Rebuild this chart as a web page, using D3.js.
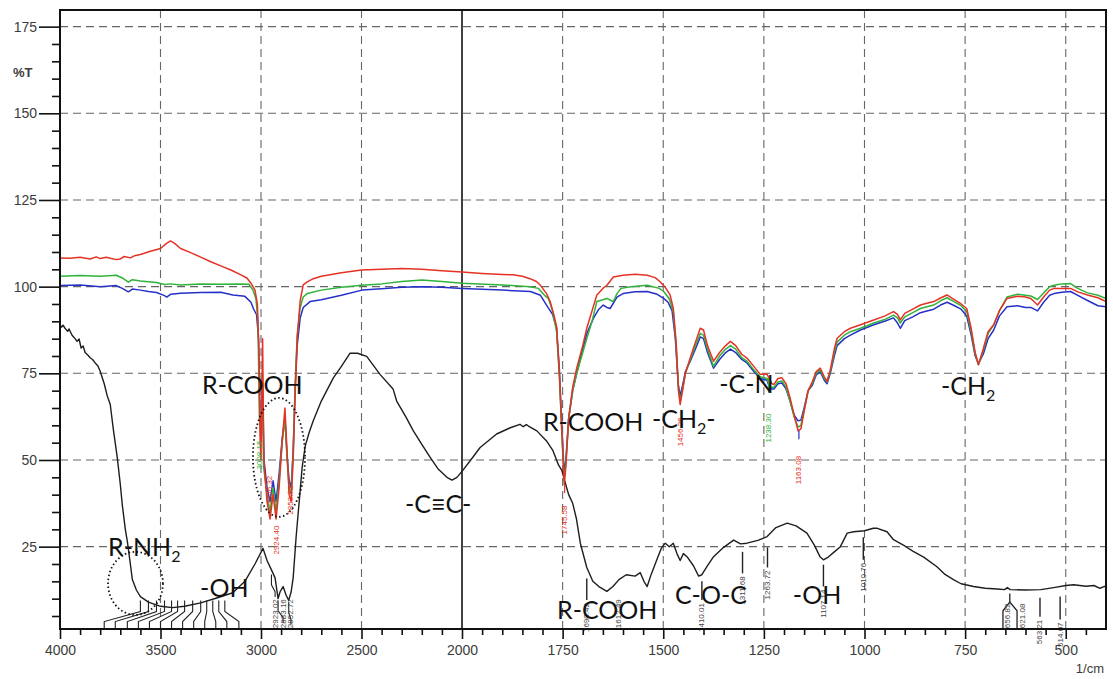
<!DOCTYPE html>
<html>
<head>
<meta charset="utf-8">
<script src="https://cdn.jsdelivr.net/npm/d3@7/dist/d3.min.js"></script>
<style>
  body { margin: 0; background: #fff; }
  .tick text { font-family: "Liberation Sans", Arial, sans-serif; font-size: 14px; fill: #3c3c3c; }
  .note { font-family: Lato, "Open Sans", sans-serif; font-size: 25px; fill: #111; }
  .pk { font-family: "Liberation Sans", Arial, sans-serif; font-size: 8px; }
</style>
</head>
<body>
<div id="chart"></div>
<script>
// ---- data: [wavenumber (1/cm), %T] ----
const blackSpectrum = [
  [4000,89],[3992,88.3],[3985,88.9],[3975,88],[3962,87.1],[3955,87.8],[3940,86],[3925,85],[3915,84.2],
  [3905,84.9],[3895,82.3],[3885,82.9],[3875,81],[3862,80.3],[3850,79.5],[3838,79],[3825,78],
  [3812,77.2],[3800,75.6],[3780,72],[3765,68.5],[3750,66],[3735,59],[3715,50.7],[3700,43],[3690,37],
  [3675,30],[3665,26.5],[3650,20],[3640,15.5],[3620,12.5],[3600,10.6],[3560,9],[3500,7.8],[3440,7.4],
  [3380,7.8],[3300,8.8],[3220,10.2],[3140,11.7],[3080,15],[3030,20],[2990,24.5],[2970,21],[2948,18.3],
  [2930,16],[2915,10],[2905,12],[2890,13.5],[2875,11],[2862,9.5],[2850,12],[2840,16],[2825,28],
  [2810,38],[2795,48],[2780,54],[2760,58],[2740,61.3],[2700,67],[2640,73.7],[2600,77],[2557,80.8],
  [2520,80.8],[2474,79.9],[2408,74.7],[2343,70.5],[2325,67],[2280,62.5],[2242,58.4],[2200,54.5],
  [2159,50.8],[2120,47.5],[2075,45],[2050,44.2],[2025,45],[1998,47],[1975,50.5],[1955,53.6],
  [1914,57.5],[1880,59.3],[1856,60.3],[1848,59.6],[1840,60.2],[1835,59.8],[1814,58.4],[1790,55.5],
  [1774,52.7],[1760,48.5],[1752,47],[1745,44],[1735,40],[1725,37.5],[1716,33.2],[1706,26],[1690,19],
  [1675,15],[1660,13.5],[1640,12.1],[1625,13.5],[1610,15.5],[1592,16.9],[1570,16.5],[1557,17.5],
  [1548,15],[1540,13.5],[1530,17],[1516,21.2],[1505,24.5],[1495,26],[1485,25],[1475,26],[1466,23],
  [1458,21],[1450,23],[1441,22.1],[1425,19.5],[1412,16.5],[1404,16.9],[1390,19.5],[1375,22.1],
  [1350,24.8],[1325,26.9],[1308,25.8],[1292,26],[1265,26.8],[1242,27.9],[1220,30.5],[1192,31.8],
  [1170,31],[1143,28.9],[1125,25.5],[1110,22],[1102,21.2],[1090,22],[1075,23.5],[1060,25],[1043,28.9],
  [1027,29.3],[1000,29.6],[978,30.3],[968,30.3],[944,29.3],[928,27],[900,25.2],[880,23.7],[853,22],
  [820,19.2],[800,17],[779,15.5],[760,14.3],[729,13.5],[700,13],[670,12.8],[652,12.6],[645,13.2],
  [638,12.6],[600,12.5],[562,12.6],[530,13.2],[500,13.8],[480,14],[450,13.6],[430,13.8],[415,13],
  [405,13.5],[400,13.5]
];

const redSpectrum = [
  [4000,108.3],[3950,108.2],[3900,108.5],[3850,108],[3820,108.6],[3800,108.1],[3770,108.5],
  [3750,108.2],[3720,107.8],[3700,108],[3680,108.7],[3650,108.3],[3630,108.9],[3600,109.3],
  [3550,110.2],[3500,111],[3470,112.5],[3450,113.2],[3430,112.5],[3400,111],[3350,109.8],[3300,108.5],
  [3250,107.2],[3200,106],[3150,104.8],[3100,103.4],[3070,102.5],[3050,101],[3030,99],[3018,95],
  [3010,80],[3004,55],[3000,50],[2992,85],[2986,50],[2970,38],[2955,33],[2940,40],[2925,33],[2910,42],
  [2895,55],[2881,65],[2870,52],[2860,40],[2850,38],[2840,50],[2830,70],[2820,85],[2805,96],
  [2790,100.5],[2770,101.4],[2740,102.3],[2700,103],[2600,104],[2500,104.8],[2400,105],[2300,105.2],
  [2200,105],[2100,104.6],[2000,104.2],[1950,103.8],[1900,103.5],[1873,103.4],[1850,103],[1831,102.3],
  [1815,101.5],[1806,100.5],[1790,98],[1781,95.7],[1772,92],[1765,88.5],[1758,75],[1752,58],[1746,43],
  [1742,48],[1735,62],[1725,71],[1715,76.5],[1700,83],[1690,88],[1677,93],[1665,97.6],[1650,99.5],
  [1640,100.4],[1624,102.8],[1600,103.3],[1570,103.6],[1540,103.3],[1520,102.6],[1508,101.4],
  [1495,99.8],[1483,97.6],[1475,93.7],[1468,84],[1462,70],[1458,66],[1452,70],[1445,75],[1433,79.4],
  [1420,84],[1408,88],[1400,87.5],[1390,83],[1375,78.5],[1360,81],[1345,83],[1333,84.2],[1320,83],
  [1305,80.5],[1292,79.4],[1275,77],[1259,74.7],[1242,74.7],[1230,72],[1225,71.8],[1215,73.5],
  [1205,73.7],[1195,72],[1185,68],[1175,63],[1165,58.4],[1158,59],[1150,64],[1140,70],[1130,72.5],
  [1120,75.5],[1110,76.5],[1100,74],[1093,72.7],[1085,76],[1075,82],[1068,85.1],[1050,87],[1035,88],
  [1010,89],[977,90.4],[950,91.5],[928,92.8],[918,92],[911,90.4],[900,92.3],[880,93.5],[861,94.7],
  [845,95.2],[828,95.7],[810,96.8],[795,97.6],[780,96.5],[760,95],[746,93.7],[735,88],[725,81],
  [717,77.5],[705,82],[693,87],[679,89],[665,93],[646,96.6],[620,97.2],[600,97],[587,96.6],[570,94.7],
  [555,97],[540,99],[529,99.5],[510,99.5],[488,99.5],[470,98.5],[446,97.6],[420,96.8],[400,95.7]
];

const greenSpectrum = [
  [4000,103],[3900,103.2],[3800,103],[3720,103.3],[3690,102.5],[3660,101.3],[3640,102],[3600,101.6],
  [3560,101.4],[3520,101.2],[3480,100.6],[3450,100.8],[3400,100.5],[3300,100.8],[3200,100.7],
  [3100,100.8],[3060,100.7],[3040,99],[3025,96.4],[3015,90],[3008,62],[3000,55],[2993,75],[2987,48],
  [2970,40],[2955,35],[2940,42],[2925,35],[2910,44],[2895,55],[2881,62],[2870,50],[2860,42],[2850,40],
  [2840,52],[2830,72],[2820,86],[2805,94],[2790,97],[2770,98],[2700,99],[2600,99.8],[2500,100.4],
  [2400,100.8],[2300,101.5],[2200,101.9],[2100,101.5],[2000,101],[1900,100.5],[1831,100],[1810,99.5],
  [1795,97.5],[1785,96.5],[1775,93],[1765,87],[1758,74],[1752,58],[1746,44],[1742,49],[1735,62],
  [1725,70],[1715,75],[1700,81],[1690,85],[1677,90],[1665,95.7],[1650,96.2],[1640,96.6],[1630,96],
  [1624,95.7],[1615,98],[1605,99.5],[1580,100],[1540,100.4],[1510,99.5],[1499,98.6],[1485,96.5],
  [1475,92.5],[1468,83],[1462,70],[1458,67],[1452,70.5],[1445,75],[1433,79],[1420,83],[1408,86.5],
  [1400,86],[1390,82],[1375,77],[1360,80],[1345,82],[1333,83],[1320,82],[1305,79.5],[1292,78.5],
  [1275,76],[1259,74],[1242,73.5],[1235,71],[1225,71],[1215,72.5],[1205,72.8],[1195,71],[1185,67],
  [1175,62.5],[1165,59.5],[1158,60],[1150,64.5],[1140,70],[1130,72],[1120,75],[1110,76],[1100,73.5],
  [1093,72.5],[1085,75.5],[1075,81],[1068,84],[1050,86],[1035,87],[1010,88],[977,89.5],[950,90.5],
  [928,91.8],[918,91],[911,89.5],[900,91.3],[880,92.5],[861,93.7],[845,94.2],[828,94.7],[810,96],
  [795,96.8],[780,95.8],[760,94.5],[746,92.8],[735,87],[725,80.5],[717,77.5],[705,81.5],[693,86.5],
  [679,89],[665,93],[646,97],[620,97.8],[600,97.5],[587,97.3],[570,96.3],[555,98.2],[540,100],
  [529,100.4],[510,100.8],[488,100.9],[470,99.5],[446,98.2],[420,97.5],[400,96.6]
];

const blueSpectrum = [
  [4000,100.3],[3900,100.5],[3800,100],[3720,100.3],[3690,99.5],[3660,98.5],[3640,99.3],[3600,99],
  [3560,98.6],[3520,98.3],[3480,97.4],[3469,97],[3450,97.8],[3400,98.1],[3300,98.3],[3200,98.4],
  [3140,97.6],[3080,97.2],[3050,95.5],[3038,93.7],[3022,91.9],[3012,85],[3005,62],[2998,57],[2992,72],
  [2985,50],[2970,42],[2955,38],[2940,44],[2925,38],[2910,46],[2895,56],[2881,62],[2870,51],[2860,44],
  [2850,42],[2840,53],[2830,70],[2820,83],[2805,91],[2790,94],[2756,95.7],[2700,96.2],[2600,97.5],
  [2497,99],[2400,99.4],[2300,99.8],[2198,100],[2100,99.8],[2000,99.5],[1900,99],[1830,98.6],
  [1805,97.5],[1790,94.7],[1775,92],[1765,88],[1758,76],[1752,60],[1746,46],[1742,50],[1735,62],
  [1725,70],[1715,75],[1700,82],[1690,86.5],[1673,91],[1660,93.5],[1649,94.7],[1640,94],[1632,93.7],
  [1615,97],[1600,98],[1570,98.5],[1540,98.6],[1515,97.8],[1499,96.6],[1488,95.5],[1478,93],[1470,85],
  [1463,72],[1458,68.5],[1452,71.5],[1445,75.5],[1433,78.5],[1420,82],[1408,85.5],[1400,85],[1390,81],
  [1375,76.5],[1360,79],[1345,81],[1333,82],[1320,81],[1305,79],[1292,78],[1275,75.5],[1259,73.5],
  [1242,73],[1235,70.5],[1225,70.5],[1215,72],[1205,72.2],[1195,70.5],[1185,67],[1175,63],[1165,61.3],
  [1158,61.5],[1150,65],[1140,70],[1130,71.5],[1120,74.5],[1110,75.5],[1100,73],[1093,72],[1085,75],
  [1075,80],[1068,83],[1050,85],[1035,86],[1010,87.5],[977,89],[950,90],[928,91],[918,89.5],[911,88],
  [900,90.2],[880,91.3],[861,92.5],[845,93],[828,93.5],[811,94.7],[795,95.5],[780,94.7],[760,93.5],
  [746,91.5],[735,86],[725,80],[717,77.8],[705,80.5],[693,85],[679,87.5],[665,91.5],[646,94.2],
  [620,94.5],[600,94],[587,94],[570,93],[555,95.5],[540,97.5],[529,98],[510,98.4],[488,98.6],
  [470,97.5],[446,96],[420,94.5],[400,94.2]
];

// axis ticks
const xMajorTicks = [4000, 3500, 3000, 2500, 2000, 1750, 1500, 1250, 1000, 750, 500];
const xGridTicks = [3500, 3000, 2500, 1750, 1500, 1250, 1000, 750, 500];
const yMajorTicks = [25, 50, 75, 100, 125, 150, 175];

// peak picks of the coloured spectra: [wavenumber, label centre %T, text, colour]
const colourPeaks = [
  [3008, 51.4, "3008.15", "green"],
  [2958, 41.3, "2956.32", "red"],
  [2925, 26.9, "2924.40", "red"],
  [2851, 38.4, "2852.72", "red"],
  [1745, 32.7, "1745.58", "red"],
  [1456, 58.1, "1456.26", "red"],
  [1238, 59.2, "1238.30", "green"],
  [1163, 47.1, "1163.08", "red"]
];

// peak picks of the black spectrum: [wavenumber, leader top %T, leader bottom %T, text]
const blackPeaks = [
  [1690, 15.8, 9.6, "1690.42"],
  [1404, 15, 9.6, "1410.01"],
  [1303, 23.5, 17.3, "1311.68"],
  [1241, 24.8, 19, "1263.72"],
  [1102, 19.8, 13.5, "1107.14"],
  [1003, 27.7, 21.2, "1010.76"],
  [564, 10.3, 4.8, "563.21"],
  [514, 10.6, 4, "514.07"]
];
const blackPeakLabelsLow = [
  [1612, "1612.49"], [2930, "2923.02"], [2890, "2883.16"], [2851, "2852.72"]
];

// fan of leaders under the broad O-H / N-H band: [peak wavenumber, label wavenumber]
const fanLeaders = [
  [3600, 3780], [3560, 3725], [3520, 3665], [3480, 3610], [3445, 3555], [3415, 3500],
  [3380, 3445], [3340, 3390], [3300, 3335], [3270, 3280], [3240, 3225], [3210, 3170], [3180, 3110]
];

// annotations: [text, wavenumber (left), %T (baseline), subscript, tail]
const notes = [
  ["R-COOH", 3293, 69.0, ""],
  ["R-NH", 3761, 22.3, "2"],
  ["-OH", 3303, 10.5, ""],
  ["-C\u2261C-", 2284, 34.7, ""],
  ["R-COOH", 1799, 58.4, ""],
  ["-CH", 1528, 59.2, "2", "-"],
  ["-C-N", 1361, 69.3, ""],
  ["R-COOH", 1764, 4.1, ""],
  ["C-O-C", 1471, 8.5, ""],
  ["-OH", 1178, 8.5, ""],
  ["-CH", 810, 68.8, "2"]
];

// dotted ellipses: [wn left, wn right, %T top, %T bottom]
const rings = [
  [3761, 3488, 23.5, 5.3],
  [3040, 2781, 67.9, 33.6]
];

const colours = { black: "#1e1e1e", red: "#e53225", green: "#2fb33a", blue: "#2630c8" };

// ---- chart ----
const width = 1113, height = 679;
const svg = d3.select("#chart").append("svg")
  .attr("width", width).attr("height", height);

const x = d3.scaleLinear().domain([4000, 2000, 400]).range([60, 462, 1106]);
const y = d3.scaleLinear().domain([1.25, 179.8]).range([629, 10]);

// grid
svg.append("g").selectAll("line").data(xGridTicks).join("line")
  .attr("x1", d => x(d)).attr("x2", d => x(d))
  .attr("y1", y.range()[1]).attr("y2", y.range()[0])
  .attr("stroke", "#666").attr("stroke-width", 1.1).attr("stroke-dasharray", "8,5");
svg.append("g").selectAll("line").data(yMajorTicks).join("line")
  .attr("x1", x(4000)).attr("x2", x(400))
  .attr("y1", d => y(d)).attr("y2", d => y(d))
  .attr("stroke", "#666").attr("stroke-width", 1.1).attr("stroke-dasharray", "8,5");
svg.append("line")
  .attr("x1", x(2000)).attr("x2", x(2000))
  .attr("y1", y.range()[1]).attr("y2", y.range()[0])
  .attr("stroke", "#111").attr("stroke-width", 1.6);

// axes
const yMinor = d3.range(5, 180, 5).filter(v => v % 25 !== 0);
const xMinor = d3.range(3900, 2000, -100).filter(v => v % 500 !== 0)
  .concat(d3.range(1950, 400, -50).filter(v => v % 250 !== 0));

svg.append("g").attr("transform", `translate(${x(4000)},0)`)
  .call(d3.axisLeft(y).tickValues(yMinor).tickSize(8).tickFormat(""))
  .call(g => g.select(".domain").remove());
svg.append("g").attr("transform", `translate(${x(4000)},0)`)
  .call(d3.axisLeft(y).tickValues(yMajorTicks).tickSize(21).tickPadding(2))
  .call(g => g.select(".domain").remove());
svg.selectAll(".tick line").attr("stroke", "#111").attr("stroke-width", 1.6);

const xg1 = svg.append("g").attr("transform", `translate(0,${y.range()[0]})`)
  .call(d3.axisBottom(x).tickValues(xMinor).tickSize(6).tickFormat(""));
const xg2 = svg.append("g").attr("transform", `translate(0,${y.range()[0]})`)
  .call(d3.axisBottom(x).tickValues(xMajorTicks).tickSize(10).tickPadding(6).tickFormat(d3.format("d")));
[xg1, xg2].forEach(g => {
  g.select(".domain").remove();
  g.selectAll(".tick line").attr("stroke", "#111").attr("stroke-width", 1.6);
});

svg.append("text").attr("x", 13).attr("y", 77)
  .attr("font-family", "Liberation Sans, Arial, sans-serif").attr("font-size", 13)
  .attr("font-weight", "bold").attr("fill", "#3c3c3c").text("%T");
svg.append("text").attr("x", 1104).attr("y", 673).attr("text-anchor", "end")
  .attr("font-family", "Liberation Sans, Arial, sans-serif").attr("font-size", 13)
  .attr("fill", "#3c3c3c").text("1/cm");

// clip for spectra
svg.append("clipPath").attr("id", "plot").append("rect")
  .attr("x", x(4000)).attr("y", y.range()[1])
  .attr("width", x(400) - x(4000)).attr("height", y.range()[0] - y.range()[1]);

const line = d3.line().x(d => x(d[0])).y(d => y(d[1]));
const spectra = svg.append("g").attr("clip-path", "url(#plot)");
[[blackSpectrum, colours.black, 1.4], [blueSpectrum, colours.blue, 1.5],
 [greenSpectrum, colours.green, 1.5], [redSpectrum, colours.red, 1.5]].forEach(([data, c, w]) => {
  spectra.append("path").datum(data)
    .attr("fill", "none").attr("stroke", c).attr("stroke-width", w)
    .attr("stroke-linejoin", "round").attr("d", line);
});

// leaders under the broad band
const fanG = svg.append("g").attr("fill", "none").attr("stroke", "#222").attr("stroke-width", 1.1);
fanLeaders.forEach(([pw, lw]) => {
  fanG.append("path").attr("d", d3.line()([
    [x(pw), y(9.5)], [x(pw), y(6.3)], [x(lw), y(3.4)], [x(lw), y(1.25)]
  ]));
});
// leaders at 2950-2850
[[2948, 17, 2930], [2915, 9.5, 2890], [2862, 9, 2851]].forEach(([pw, t, lw]) => {
  fanG.append("path").attr("d", d3.line()([
    [x(pw), y(t)], [x(pw), y(t - 3)], [x(lw), y(t - 5)], [x(lw), y(t - 6.5)]
  ]));
});

// black peak picks
const pkG = svg.append("g");
blackPeaks.forEach(([wn, t1, t2, label]) => {
  pkG.append("line").attr("x1", x(wn)).attr("x2", x(wn))
    .attr("y1", y(t1)).attr("y2", y(t2)).attr("stroke", "#222").attr("stroke-width", 1.4);
  pkG.append("text").attr("class", "pk").attr("fill", "#444")
    .attr("text-anchor", "end").attr("dominant-baseline", "central")
    .attr("transform", `translate(${x(wn)},${y(t2) + 3}) rotate(-90)`).text(label);
});
blackPeakLabelsLow.forEach(([wn, label]) => {
  pkG.append("text").attr("class", "pk").attr("fill", "#444")
    .attr("text-anchor", "start").attr("dominant-baseline", "central")
    .attr("transform", `translate(${x(wn)},${y(1.5)}) rotate(-90)`).text(label);
});
// split leader near 650
pkG.append("path").attr("fill", "none").attr("stroke", "#222").attr("stroke-width", 1.3)
  .attr("d", d3.line()([[x(656), y(1.25)], [x(656), y(6.5)], [x(639), y(9)],
                        [x(621), y(6.5)], [x(621), y(1.25)]]));
pkG.append("line").attr("x1", x(639)).attr("x2", x(639)).attr("y1", y(9)).attr("y2", y(11.5))
  .attr("stroke", "#222").attr("stroke-width", 1.3);
[[656, "656.82"], [621, "621.08"]].forEach(([wn, label]) => {
  pkG.append("text").attr("class", "pk").attr("fill", "#444")
    .attr("text-anchor", "start").attr("dominant-baseline", "central")
    .attr("transform", `translate(${x(wn) + 5},${y(1.5)}) rotate(-90)`).text(label);
});

// coloured peak picks
colourPeaks.forEach(([wn, t, label, c]) => {
  pkG.append("text").attr("class", "pk").attr("fill", colours[c])
    .attr("text-anchor", "middle").attr("dominant-baseline", "central")
    .attr("transform", `translate(${x(wn)},${y(t)}) rotate(-90)`).text(label);
});
[[1238, 73.5, 69.3, "green"], [1163, 58.4, 56, "blue"], [1745, 43, 40.5, "red"]].forEach(([wn, t1, t2, c]) => {
  pkG.append("line").attr("x1", x(wn)).attr("x2", x(wn))
    .attr("y1", y(t1)).attr("y2", y(t2)).attr("stroke", colours[c]).attr("stroke-width", 1.2);
});

// annotations
const noteG = svg.append("g");
notes.forEach(([txt, wn, t, sub, tail]) => {
  const el = noteG.append("text").attr("class", "note").attr("x", x(wn)).attr("y", y(t)).text(txt);
  if (sub) el.append("tspan").attr("font-size", 16).attr("dy", 6).text(sub);
  if (tail) el.append("tspan").attr("dy", -6).text(tail);
});

// dotted rings
rings.forEach(([w1, w2, t1, t2]) => {
  svg.append("ellipse")
    .attr("cx", (x(w1) + x(w2)) / 2).attr("cy", (y(t1) + y(t2)) / 2)
    .attr("rx", (x(w2) - x(w1)) / 2).attr("ry", (y(t2) - y(t1)) / 2)
    .attr("fill", "none").attr("stroke", "#111").attr("stroke-width", 1.8)
    .attr("stroke-dasharray", "1.5,2.5");
});

// frame
svg.append("rect")
  .attr("x", x(4000)).attr("y", y.range()[1])
  .attr("width", x(400) - x(4000)).attr("height", y.range()[0] - y.range()[1])
  .attr("fill", "none").attr("stroke", "#111").attr("stroke-width", 2);
</script>
</body>
</html>
